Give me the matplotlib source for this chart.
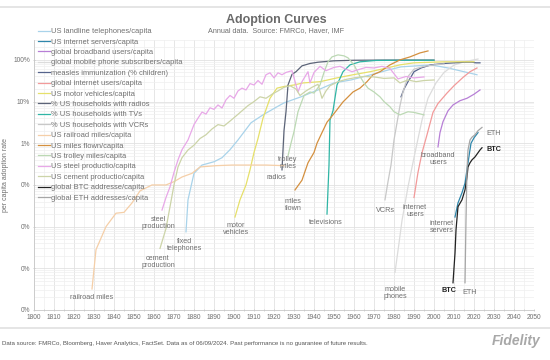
import matplotlib
matplotlib.use('Agg')
import matplotlib.pyplot as plt
from matplotlib.ticker import FixedLocator, MultipleLocator, FuncFormatter, LogLocator, NullFormatter

plt.rcParams['font.family'] = ['Liberation Sans', 'DejaVu Sans']

# data: year, adoption rate in percent
land_yr = [1876, 1877, 1880, 1884, 1890, 1894, 1898, 1902, 1908.5, 1914.5, 1921.5, 1925, 1933.5, 1942, 1950,
           1958.5, 1968.5, 1977, 1983.5, 1998.5, 2007, 2015, 2021.5]
land = [0.0075, 0.044, 0.19, 0.30, 0.36, 0.45, 0.7, 1.2, 3.1, 4.8, 7.5, 9.3, 13, 19, 28,
        33, 44, 57, 68, 76, 64, 52, 44]

servers_yr = [2010.5, 2012, 2014, 2015.5, 2017, 2018.5, 2020, 2022]
servers = [0.017, 0.037, 0.065, 0.11, 0.34, 1.0, 1.35, 1.8]

bb_yr = [2002, 2003, 2004.5, 2007, 2009.5, 2013, 2016.5, 2020, 2023]
bb = [0.82, 1.8, 3.3, 6, 8.3, 10.5, 12, 15, 19]

mobile_yr = [1980.5, 1982.5, 1984, 1987, 1990.5, 1994, 1997, 2001, 2005, 2010, 2015, 2022]
mobile = [0.0008, 0.004, 0.014, 0.09, 0.59, 3.6, 12, 28, 50, 75, 90, 105]

measles_yr = [1983.5, 1985, 1987, 1988.5, 1990, 1993.5, 1998.5, 2005, 2015, 2019, 2021, 2023]
measles = [13, 20, 30, 39, 52, 64, 76, 82, 88, 88, 85, 85]

netusers_yr = [1990, 1992, 1994, 1996.5, 1999.5, 2002, 2006.5, 2010, 2014.5, 2018, 2021.5]
netusers = [0.05, 0.2, 0.59, 1.6, 5.5, 9, 16, 24, 38, 52, 64]

motor_yr = [1900.5, 1903, 1906, 1908, 1910, 1912, 1914.5, 1918, 1921.5, 1925, 1930, 1934.5, 1943,
            1951.5, 1959.5, 1968, 1976.5, 1983, 1990, 2005, 2020]
motor = [0.017, 0.044, 0.1, 0.23, 0.6, 1.3, 4.0, 12, 21, 23, 25, 28, 30,
         37, 44, 52, 64, 76, 85, 90, 90]

radios_yr = [1924, 1925, 1926, 1927, 1929, 1931, 1934, 1938, 1942, 1950, 1960, 1975, 1990, 2000]
radios = [0.23, 2.0, 5.7, 25, 45, 52, 72, 82, 88, 95, 98, 99, 99, 99]

tv_yr = [1946.5, 1947.5, 1948, 1949.5, 1951.5, 1954.5, 1958, 1963, 1971, 1985, 2000]
tv = [0.02, 0.3, 3.6, 6, 25, 52, 76, 90, 97, 98, 98]

vcr_yr = [1975.5, 1977, 1978.5, 1980, 1981.5, 1983, 1984.5, 1987, 1990, 1995, 2000, 2005]
vcr = [0.044, 0.12, 0.3, 1.2, 3.1, 8, 17, 40, 60, 70, 76, 80]

rail_yr = [1829, 1831, 1836, 1841, 1845, 1849, 1853, 1859, 1866, 1870, 1874, 1879, 1883,
           1891, 1899, 1907, 1916, 1925]
rail = [0.00032, 0.0028, 0.01, 0.021, 0.022, 0.037, 0.072, 0.1, 0.1, 0.12, 0.155, 0.19, 0.27,
        0.29, 0.3, 0.3, 0.3, 0.29]

flown_yr = [1930.5, 1934, 1937, 1940, 1941.5, 1944, 1946.5, 1949.5, 1954.5, 1959.5, 1963, 1966.5,
            1969.5, 1973, 1978, 1983, 1988, 1993, 1997]
flown = [0.076, 0.13, 0.34, 0.6, 1.0, 1.8, 3.2, 4.8, 9.8, 17, 21, 30,
         44, 52, 76, 100, 118, 147, 164]

trolley_yr = [1927, 1928.5, 1930, 1932, 1935, 1938, 1940, 1943, 1945, 1947, 1949, 1952, 1955,
              1957, 1960, 1963, 1965, 1967, 1970, 1973, 1975, 1978, 1980, 1983, 1987, 1990, 1995]
trolley = [0.5, 1.0, 1.9, 5.7, 14, 17, 16, 25, 50, 90, 118, 132, 125,
           112, 76, 40, 28, 21, 17, 13, 10, 7.5, 5.7, 4.8, 5.7, 5.5, 4.8]

steel_yr = [1864, 1866, 1868, 1870, 1872, 1874, 1877, 1880, 1882, 1884, 1886, 1888, 1890, 1892,
            1894, 1896, 1898, 1900, 1902, 1904, 1906, 1908, 1910, 1912, 1914, 1916, 1918, 1920,
            1922, 1924, 1926, 1929, 1932, 1934, 1937, 1938, 1940, 1943, 1946, 1950, 1953, 1956,
            1959, 1962, 1966, 1970, 1974, 1978, 1982, 1986, 1990, 1995]
steel = [0.025, 0.05, 0.09, 0.2, 0.4, 0.7, 1.2, 2.8, 4.0, 5.6, 5.0, 7.1, 6.5, 8.3,
         7.0, 11, 14, 12, 18, 21, 19, 27, 25, 32, 26, 44, 49, 37,
         49, 44, 50, 55, 17, 30, 52, 28, 50, 70, 55, 66, 70, 60,
         52, 58, 66, 64, 70, 62, 35, 40, 37, 39]

cement_yr = [1863, 1866, 1868, 1870, 1872, 1874, 1877, 1880, 1883, 1886, 1889, 1892, 1895, 1898,
             1901, 1904, 1907, 1910, 1913, 1916, 1919, 1922, 1925, 1928, 1931, 1933, 1936, 1939,
             1942, 1944, 1946, 1948, 1952, 1956, 1960, 1965, 1970, 1975, 1980, 1983, 1987, 1991,
             1995, 2000]
cement = [0.003, 0.009, 0.03, 0.1, 0.27, 0.45, 0.69, 0.9, 1.3, 1.6, 2.2, 2.8, 2.6, 3.4,
          4.5, 6.0, 8.0, 10, 13, 12, 15, 18, 22, 24, 20, 14, 18, 22,
          26, 12, 18, 24, 30, 34, 37, 40, 39, 36, 37, 28, 33, 30,
          32, 33]

btc_yr = [2009.5, 2010.5, 2011, 2012, 2014, 2015.5, 2016.5, 2017, 2018, 2019, 2020.5, 2023, 2024]
btc = [0.00045, 0.0023, 0.0083, 0.03, 0.044, 0.076, 0.155, 0.27, 0.34, 0.40, 0.47, 0.69, 0.78]

eth_yr = [2015.5, 2016, 2016.5, 2017, 2018, 2019, 2020.5, 2022, 2024]
eth = [0.00045, 0.015, 0.23, 0.69, 1.2, 1.4, 1.6, 2.0, 2.4]

series = [
    ('US landline telephones/capita', land_yr, land, '#a9d3ea'),
    ('US internet servers/capita', servers_yr, servers, '#2e86ab'),
    ('global broadband users/capita', bb_yr, bb, '#b77fd6'),
    ('global mobile phone subscribers/capita', mobile_yr, mobile, '#dcdcdc'),
    ('measles immunization (% children)', measles_yr, measles, '#56648c'),
    ('global internet users/capita', netusers_yr, netusers, '#f29a9a'),
    ('US motor vehicles/capita', motor_yr, motor, '#e6e06a'),
    ('% US households with radios', radios_yr, radios, '#5c6478'),
    ('% US households with TVs', tv_yr, tv, '#2fb5a5'),
    ('% US households with VCRs', vcr_yr, vcr, '#c8c8c8'),
    ('US railroad miles/capita', rail_yr, rail, '#f5cfa8'),
    ('US miles flown/capita', flown_yr, flown, '#d4903f'),
    ('US trolley miles/capita', trolley_yr, trolley, '#bcd9b4'),
    ('US steel productio/capita', steel_yr, steel, '#e8a8e8'),
    ('US cement productio/capita', cement_yr, cement, '#ccd4a8'),
    ('global BTC addresse/capita', btc_yr, btc, '#222222'),
    ('global ETH addresses/capita', eth_yr, eth, '#a6a6a6'),
]

# curve labels: text, year, percent
labels = [
    ('railroad miles', 1829, 0.0002), ('steel\nproduction', 1862, 0.0123),
    ('cement\nproduction', 1862, 0.00144), ('fixed\ntelephones', 1875.5, 0.0037),
    ('motor\nvehicles', 1901, 0.0089), ('trolley\nmiles', 1927, 0.34),
    ('radios', 1921, 0.148), ('miles\nflown', 1929.5, 0.033),
    ('televisions', 1946, 0.0123), ('VCRs', 1975.5, 0.025),
    ('internet\nusers', 1990.5, 0.024), ('broadband\nusers', 2002, 0.42),
    ('internet\nservers', 2004, 0.01), ('mobile\nphones', 1980.5, 0.00026),
    ('ETH', 2018, 0.00026), ('ETH', 2030, 1.7),
]
btc_labels = [('BTC', 2007.5, 0.0003), ('BTC', 2030, 0.69)]

gray = '#707070'

fig = plt.figure(figsize=(5.5, 3.6), dpi=100)
ax = fig.add_axes([34/550, 1-310/360, 500/550, 270/360])

for name, x, y, c in series:
    ax.plot(x, y, color=c, lw=0.9, label=name)

ax.set_yscale('log')
ax.set_xlim(1800, 2050)
ax.set_ylim(1e-4, 300)

ax.xaxis.set_major_locator(MultipleLocator(10))
ax.xaxis.set_minor_locator(MultipleLocator(5))
ax.yaxis.set_major_locator(FixedLocator([1e-4, 1e-3, 1e-2, 1e-1, 1, 10, 100]))
ax.yaxis.set_minor_locator(LogLocator(base=10, subs=range(2, 10)))
ax.yaxis.set_minor_formatter(NullFormatter())
ax.yaxis.set_major_formatter(FuncFormatter(lambda v, p: '{:.0f}%'.format(v)))

ax.grid(True, which='major', color='#e2e2e2', lw=0.6)
ax.grid(True, which='minor', color='#efefef', lw=0.5)
ax.set_axisbelow(True)
for s in ['top', 'right']:
    ax.spines[s].set_visible(False)
for s in ['left', 'bottom']:
    ax.spines[s].set_color('#c8c8c8')
    ax.spines[s].set_linewidth(0.6)
ax.tick_params(axis='both', which='both', colors='#c0c0c0', labelcolor=gray, labelsize=4.8,
               length=2, width=0.5, direction='inout', pad=2)
ax.tick_params(axis='y', which='minor', length=0)
ax.set_ylabel('per capita adoption rate', fontsize=5, color=gray, labelpad=3)

for t, x, y in labels:
    ax.text(x, y, t, fontsize=5.2, color=gray, ha='center', va='center', linespacing=1.0)
for t, x, y in btc_labels:
    ax.text(x, y, t, fontsize=5.2, color='#222222', fontweight='bold', ha='center', va='center')

ax.legend(loc='upper left', bbox_to_anchor=(38/550, 1-28/360), bbox_transform=fig.transFigure,
          frameon=False, fontsize=5.4, handlelength=1.6, handletextpad=0.15, labelspacing=0.42,
          borderpad=0, borderaxespad=0, labelcolor=gray)

fig.text(276/550, 1-20/360, 'Adoption Curves', fontsize=9, fontweight='bold', color='#6a6a6a',
         ha='center', va='center')
fig.text(276/550, 1-31/360, 'Annual data.  Source: FMRCo, Haver, IMF', fontsize=5.2, color=gray,
         ha='center', va='center')

# page frame lines and footer
fig.add_artist(plt.Line2D([0, 1], [1-7/360, 1-7/360], color='#e0e0e0', lw=1.2))
fig.add_artist(plt.Line2D([0, 1], [1-328/360, 1-328/360], color='#e0e0e0', lw=1.2))
fig.text(2/550, 1-343/360,
         'Data source: FMRCo, Bloomberg, Haver Analytics, FactSet. Data as of 06/09/2024. '
         'Past performance is no guarantee of future results.',
         fontsize=4.4, color='#555555', ha='left', va='center')
fig.text(492/550, 1-341/360, 'Fidelity', fontsize=10, fontweight='bold', style='italic',
         color='#a8a8a8', ha='left', va='center')

fig.savefig('out.png', dpi=100)
